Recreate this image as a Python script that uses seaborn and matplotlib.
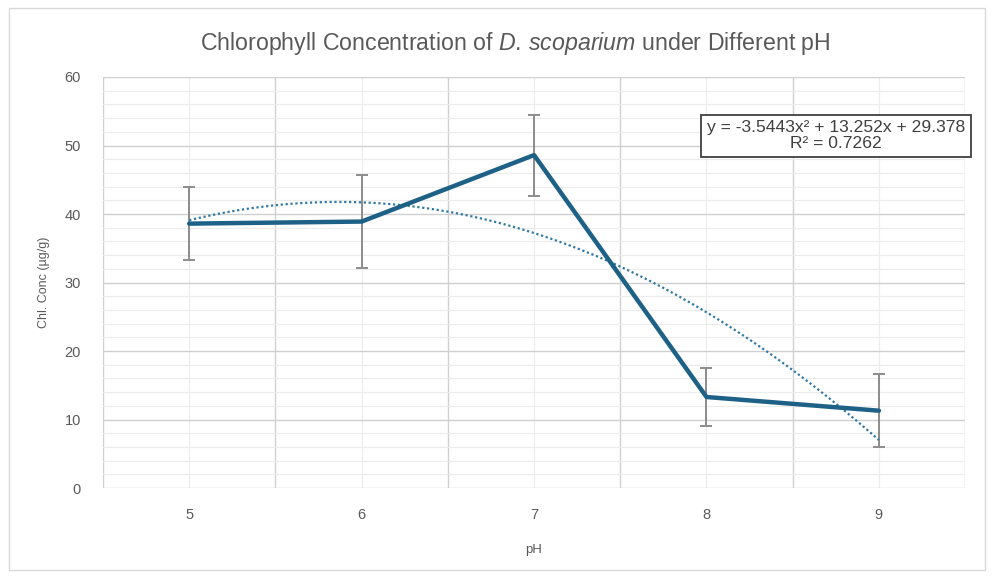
import numpy as np
import pandas as pd
import matplotlib.pyplot as plt
import seaborn as sns
from matplotlib.patches import Rectangle
from matplotlib.ticker import MultipleLocator

# Data
ph = [5, 6, 7, 8, 9]
chl_mean = [38.6, 38.9, 48.6, 13.3, 11.3]
chl_err = [5.3, 6.8, 5.9, 4.2, 5.3]
eq_text = 'y = -3.5443x² + 13.252x + 29.378\nR² = 0.7262'

df = pd.DataFrame({'pH': ph, 'chl': chl_mean, 'err': chl_err})

sns.set_theme(style='white')
plt.rcParams['font.family'] = ['Liberation Sans', 'DejaVu Sans']
plt.rcParams['mathtext.fontset'] = 'custom'
plt.rcParams['mathtext.rm'] = 'Liberation Sans'
plt.rcParams['mathtext.it'] = 'Liberation Sans:italic'

line_col = '#1e6187'
trend_col = '#2f79a6'
text_col = '#595959'

fig = plt.figure(figsize=(9.95, 5.77), dpi=100)
ax = fig.add_axes([0.1035, 0.154, 0.8665, 0.7126])

# chart border
fig.patches.append(Rectangle((0.009, 0.012), 0.981, 0.975, transform=fig.transFigure,
                             fill=False, edgecolor='#d9d9d9', linewidth=1))

# error bars
ax.errorbar(df['pH'], df['chl'], yerr=df['err'], fmt='none', ecolor='#8c8c8c',
            elinewidth=1.4, capsize=4, capthick=1.4, zorder=2)

# polynomial trendline (order 2, fit on category index like Excel)
idx = np.arange(1, len(ph) + 1)
coef = np.polyfit(idx, chl_mean, 2)
xs = np.linspace(1, len(ph), 200)
trend = pd.DataFrame({'pH': xs + ph[0] - 1, 'fit': np.polyval(coef, xs)})
sns.lineplot(data=trend, x='pH', y='fit', ax=ax, color=trend_col, linewidth=1.6,
             linestyle=(0, (1, 1.2)), zorder=3)

sns.lineplot(data=df, x='pH', y='chl', ax=ax, color=line_col, linewidth=3.2, zorder=4)

ax.set_xlim(4.5, 9.5)
ax.set_ylim(0, 60)
ax.xaxis.set_major_locator(plt.FixedLocator(ph))
ax.xaxis.set_minor_locator(MultipleLocator(1, offset=0.5))
ax.yaxis.set_major_locator(MultipleLocator(10))
ax.yaxis.set_minor_locator(MultipleLocator(2))
ax.grid(which='major', axis='y', color='#d0d0d0', linewidth=1)
ax.grid(which='minor', axis='y', color='#ececec', linewidth=0.8)
ax.grid(which='major', axis='x', color='#ececec', linewidth=0.8)
ax.grid(which='minor', axis='x', color='#d0d0d0', linewidth=1)
ax.set_axisbelow(True)

ax.tick_params(axis='both', which='both', length=0, labelsize=10.5, labelcolor=text_col)
ax.tick_params(axis='x', pad=14)
ax.tick_params(axis='y', pad=16)
for s in ax.spines.values():
    s.set_visible(False)

ax.set_xlabel('pH', fontsize=9.5, color=text_col, labelpad=16)
ax.set_ylabel('Chl. Conc (µg/g)', fontsize=9, color=text_col, labelpad=10)
fig.suptitle(r'Chlorophyll Concentration of $\it{D.\,scoparium}$ under Different pH',
             fontsize=16.7, color=text_col, x=0.518, y=0.948)

ax.text(0.85, 0.857, eq_text, transform=ax.transAxes, ha='center', va='center',
        fontsize=12.6, color='#404040', linespacing=1.05,
        bbox=dict(boxstyle='square,pad=0.32', facecolor='white', edgecolor='#404040', linewidth=1.3))

fig.savefig('out.png', dpi=100, facecolor='white')
